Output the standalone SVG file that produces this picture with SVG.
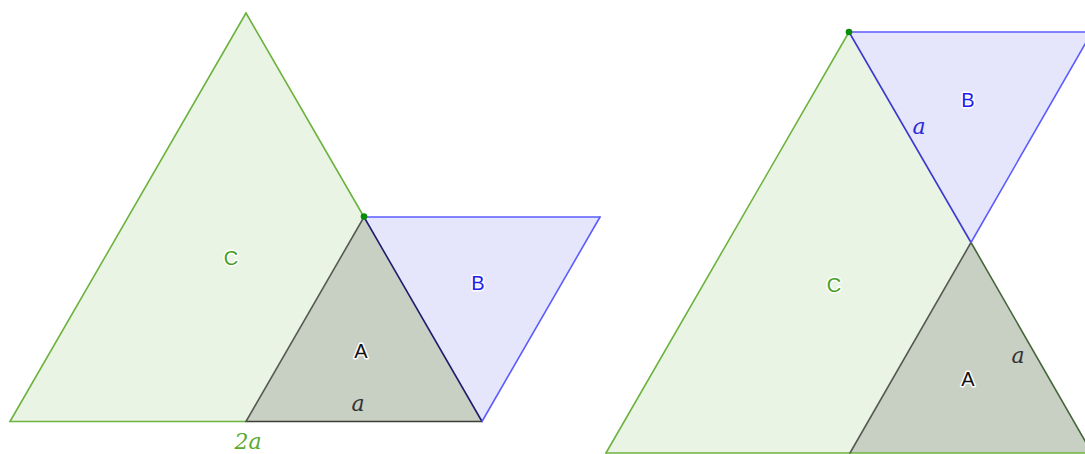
<svg xmlns="http://www.w3.org/2000/svg" width="1085" height="454" viewBox="0 0 1085 454">
<style>
.fC{fill:#e9f4e4;stroke:none}
.fA{fill:#c8cfc3;stroke:none}
.fB{fill:#e5e5fb;stroke:none}
.e{fill:none;stroke-width:1.6;stroke-linecap:round}
.g{stroke:#6db33f}
.b{stroke:#5c5cff}
.nv{stroke:#1e1e6e}
.dk{stroke:#3a3f38}
.gr{stroke:#555a53}
.bd{stroke:#3a3ad0}
.dg{stroke:#45663a}
.lbl{font-family:"Liberation Sans",Arial,sans-serif;font-size:20px;text-anchor:middle;paint-order:stroke;stroke:#fff;stroke-width:3px;stroke-linejoin:round}
.m{font-family:"DejaVu Serif","Liberation Serif",serif;font-style:italic;font-size:22px;text-anchor:middle}
.pt{fill:#0a8a0a}
</style>
<g id="C1"><polygon class="fC" points="10,421.5 246,13 482,421.5"/></g>
<g id="A1"><polygon class="fA" points="246,421.5 364,217 482,421.5"/></g>
<g id="B1"><polygon class="fB" points="364,217 600,217 482,421.5"/></g>
<g id="C2"><polygon class="fC" points="606,453 849,32 1092,453"/></g>
<g id="A2"><polygon class="fA" points="850,453 971,242.5 1092,453"/></g>
<g id="B2"><polygon class="fB" points="849,32 1092,32 971,242.5"/></g>
<g id="edges">
<line class="e g" x1="10" y1="421.5" x2="246" y2="13"/>
<line class="e g" x1="246" y1="13" x2="364" y2="217"/>
<line class="e g" x1="10" y1="421.5" x2="246" y2="421.5"/>
<line class="e dk" x1="246" y1="421.5" x2="482" y2="421.5"/>
<line class="e gr" x1="246" y1="421.5" x2="364" y2="217"/>
<line class="e nv" x1="364" y1="217" x2="482" y2="421.5"/>
<line class="e b" x1="364" y1="217" x2="600" y2="217"/>
<line class="e b" x1="600" y1="217" x2="482" y2="421.5"/>
<line class="e g" x1="606" y1="453" x2="849" y2="32"/>
<line class="e bd" x1="849" y1="32" x2="971" y2="242.5"/>
<line class="e dg" x1="971" y1="242.5" x2="1092" y2="453"/>
<line class="e g" x1="606" y1="453" x2="1092" y2="453"/>
<line class="e gr" x1="850" y1="453" x2="971" y2="242.5"/>
<line class="e b" x1="849" y1="32" x2="1092" y2="32"/>
<line class="e b" x1="1092" y1="32" x2="971" y2="242.5"/>
</g>
<g id="points">
<circle class="pt" cx="364" cy="216.5" r="3.3"/>
<circle class="pt" cx="849" cy="32" r="3.3"/>
</g>
<g id="labels">
<text class="lbl" x="231" y="265" fill="#44a01c">C</text>
<text class="lbl" x="478" y="290" fill="#2222ee">B</text>
<text class="lbl" x="361" y="358" fill="#111">A</text>
<text class="m" x="358" y="411" fill="#333">a</text>
<text class="m" x="248" y="449" fill="#5aab2e">2a</text>
<text class="lbl" x="968" y="107" fill="#2222ee">B</text>
<text class="m" x="919" y="134" fill="#2a2ad8">a</text>
<text class="lbl" x="834" y="292" fill="#44a01c">C</text>
<text class="lbl" x="968" y="386" fill="#111">A</text>
<text class="m" x="1018" y="363" fill="#333">a</text>
</g>
</svg>
